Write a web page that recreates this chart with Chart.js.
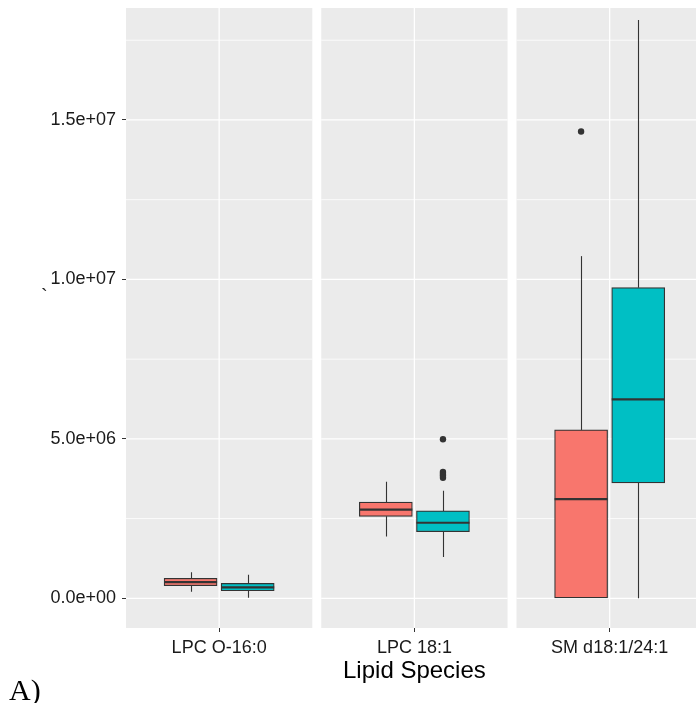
<!DOCTYPE html>
<html><head><meta charset="utf-8">
<script src="https://cdn.jsdelivr.net/npm/chart.js@4.4.1/dist/chart.umd.min.js"></script>
<style>
html,body{margin:0;padding:0;background:#fff;overflow:hidden;width:696px;height:703px;}
#wrap{position:relative;width:696px;height:703px;overflow:hidden;}
canvas{position:absolute;left:0;top:0;}
.lbl{position:absolute;white-space:nowrap;}
</style></head><body>
<div id="wrap">
<canvas id="c" width="706" height="703"></canvas>
<div class="lbl" style="left:41px;top:286px;font-family:'Liberation Sans',Arial,sans-serif;font-size:20px;line-height:20px;color:#222">`</div>
<div class="lbl" style="left:9px;top:675px;font-family:'Liberation Serif','Times New Roman',serif;font-size:30px;line-height:30px;color:#000">A)</div>
</div>
<script>
// ---- data ----
const categories = ['LPC O-16:0', 'LPC 18:1', 'SM d18:1/24:1'];
const groupNames = ['Group 1', 'Group 2'];
// group 1 (red)
const redWhiskerLow  = [0.207e6, 1.94e6, 0];
const redQ1          = [0.395e6, 2.57e6, 0];
const redMedian      = [0.511e6, 2.78e6, 3.11e6];
const redQ3          = [0.627e6, 3.02e6, 5.28e6];
const redWhiskerHigh = [0.815e6, 3.655e6, 10.73e6];
const redOutliers    = [[], [], [14.64e6]];
// group 2 (teal)
const tealWhiskerLow  = [0.02e6, 1.30e6, 0];
const tealQ1          = [0.238e6, 2.09e6, 3.62e6];
const tealMedian      = [0.345e6, 2.37e6, 6.24e6];
const tealQ3          = [0.47e6, 2.74e6, 9.74e6];
const tealWhiskerHigh = [0.74e6, 3.37e6, 18.13e6];
const tealOutliers    = [[], [4.99e6, 3.96e6, 3.90e6, 3.84e6, 3.78e6], []];
// axes
const yTickValues  = [0, 5e6, 1e7, 1.5e7];
const yTickLabels  = ['0.0e+00', '5.0e+06', '1.0e+07', '1.5e+07'];
const yMinorValues = [2.5e6, 7.5e6, 12.5e6, 17.5e6];
const xAxisTitle = 'Lipid Species';

// ---- layout (facet panels on a linear x scale) ----
const PANEL_STEP = 1.2578, PANEL_HALF = 0.6, DODGE = 0.184;
const centers = categories.map((c, i) => 1 + i * PANEL_STEP);
const RED = '#F8766D', TEAL = '#00BFC4', LINE = '#333333';

const groups = [
  {name: groupNames[0], color: RED, off: -DODGE, lo: redWhiskerLow, q1: redQ1, med: redMedian, q3: redQ3, hi: redWhiskerHigh, out: redOutliers},
  {name: groupNames[1], color: TEAL, off: DODGE, lo: tealWhiskerLow, q1: tealQ1, med: tealMedian, q3: tealQ3, hi: tealWhiskerHigh, out: tealOutliers}
];

const boxDatasets = groups.map(g => ({
  type: 'bar',
  label: g.name,
  data: categories.map((c, i) => ({x: centers[i] + g.off, y: [g.q1[i], g.q3[i]]})),
  backgroundColor: g.color,
  borderColor: LINE,
  borderWidth: 1.2,
  borderSkipped: false,
  barThickness: 53,
  grouped: false
}));
const outlierData = [];
groups.forEach(g => g.out.forEach((arr, i) => arr.forEach(v => outlierData.push({x: centers[i] + g.off, y: v}))));
const outlierDataset = {
  type: 'scatter', label: 'outliers', data: outlierData,
  pointRadius: 3.2, pointHoverRadius: 3.2, backgroundColor: LINE, borderWidth: 0
};

const panelPlugin = {
  id: 'panels',
  beforeDatasetsDraw(chart) {
    const {ctx, chartArea: a, scales: {x, y}} = chart;
    ctx.save();
    centers.forEach(c => {
      const l = x.getPixelForValue(c - PANEL_HALF), r = x.getPixelForValue(c + PANEL_HALF);
      ctx.fillStyle = '#EBEBEB';
      ctx.fillRect(l, a.top, r - l, a.bottom - a.top);
      ctx.strokeStyle = '#FFFFFF';
      ctx.lineWidth = 0.8;
      yMinorValues.forEach(v => {
        const py = y.getPixelForValue(v);
        if (py < a.top || py > a.bottom) return;
        ctx.beginPath(); ctx.moveTo(l, py); ctx.lineTo(r, py); ctx.stroke();
      });
      ctx.lineWidth = 1.3;
      yTickValues.forEach(v => {
        const py = y.getPixelForValue(v);
        ctx.beginPath(); ctx.moveTo(l, py); ctx.lineTo(r, py); ctx.stroke();
      });
      const px = x.getPixelForValue(c);
      ctx.beginPath(); ctx.moveTo(px, a.top); ctx.lineTo(px, a.bottom); ctx.stroke();
    });
    // whiskers
    ctx.strokeStyle = LINE;
    ctx.lineWidth = 1.1;
    groups.forEach(g => {
      categories.forEach((c, i) => {
        const px = Math.round(x.getPixelForValue(centers[i] + g.off)) + 0.5;
        ctx.beginPath();
        ctx.moveTo(px, y.getPixelForValue(g.q3[i])); ctx.lineTo(px, y.getPixelForValue(g.hi[i]));
        ctx.moveTo(px, y.getPixelForValue(g.q1[i])); ctx.lineTo(px, y.getPixelForValue(g.lo[i]));
        ctx.stroke();
      });
    });
    ctx.restore();
  },
  afterDatasetsDraw(chart) {
    const {ctx, scales: {y}} = chart;
    ctx.save();
    ctx.strokeStyle = LINE;
    ctx.lineWidth = 2.2;
    groups.forEach((g, di) => {
      const meta = chart.getDatasetMeta(di);
      meta.data.forEach((bar, i) => {
        const py = y.getPixelForValue(g.med[i]);
        ctx.beginPath();
        ctx.moveTo(bar.x - bar.width / 2, py); ctx.lineTo(bar.x + bar.width / 2, py);
        ctx.stroke();
      });
    });
    ctx.restore();
  }
};

new Chart(document.getElementById('c'), {
  type: 'bar',
  data: {datasets: [...boxDatasets, outlierDataset]},
  options: {
    responsive: false,
    animation: false,
    devicePixelRatio: 1,
    events: [],
    layout: {padding: {top: 8, left: 0, right: 0, bottom: 0}},
    plugins: {legend: {display: false}, tooltip: {enabled: false}},
    scales: {
      x: {
        type: 'linear',
        min: centers[0] - PANEL_HALF,
        max: centers[centers.length - 1] + PANEL_HALF,
        offset: false,
        afterBuildTicks: s => { s.ticks = centers.map(v => ({value: v})); },
        ticks: {
          callback: (v, i) => categories[i],
          font: {family: "'Liberation Sans', Arial, sans-serif", size: 18},
          color: '#1a1a1a', padding: 5, maxRotation: 0, autoSkip: false
        },
        grid: {drawOnChartArea: false, drawTicks: true, tickLength: 4, color: LINE, lineWidth: 1, offset: false},
        border: {display: false},
        title: {
          display: true, text: xAxisTitle,
          font: {family: "'Liberation Sans', Arial, sans-serif", size: 24},
          color: '#000', padding: {top: 0, bottom: 17}
        },
        afterFit: s => { s.height = 75; s.paddingLeft = 0; s.paddingRight = 0; }
      },
      y: {
        type: 'linear',
        min: -0.93e6,
        max: 18.51e6,
        afterBuildTicks: s => { s.ticks = yTickValues.map(v => ({value: v})); },
        ticks: {
          callback: (v, i) => yTickLabels[i],
          font: {family: "'Liberation Sans', Arial, sans-serif", size: 18},
          color: '#1a1a1a', padding: 6
        },
        grid: {drawOnChartArea: false, drawTicks: true, tickLength: 4, color: LINE, lineWidth: 1},
        border: {display: false},
        afterFit: s => { s.width = 126; s.paddingTop = 0; s.paddingBottom = 0; }
      }
    }
  },
  plugins: [panelPlugin]
});
</script>
</body></html>
